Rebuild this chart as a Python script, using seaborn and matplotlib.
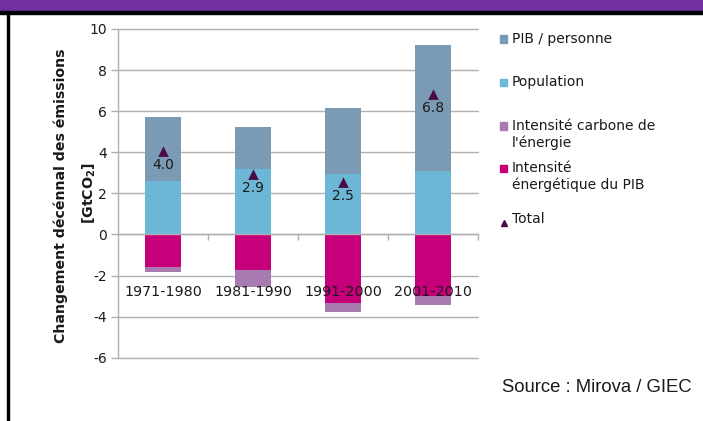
import matplotlib
matplotlib.use("Agg")
import matplotlib.pyplot as plt
from matplotlib.patches import Rectangle
from matplotlib.lines import Line2D
import seaborn as sns
import numpy as np

categories = ["1971-1980", "1981-1990", "1991-2000", "2001-2010"]
pib_personne = [3.1, 2.05, 3.2, 6.1]
population = [2.6, 3.2, 2.95, 3.1]
intensite_carbone = [-0.26, -0.8, -0.47, -0.47]
intensite_energetique = [-1.58, -1.74, -3.32, -2.98]
total = [4.0, 2.9, 2.5, 6.8]
yticks = [-6, -4, -2, 0, 2, 4, 6, 8, 10]

legend_labels = ["PIB / personne", "Population",
                 "Intensité carbone de\nl'énergie",
                 "Intensité\nénergétique du PIB", "Total"]

C_PIB = "#7b9bb5"
C_POP = "#6cb7d6"
C_CARB = "#a77bb0"
C_ENER = "#c5007a"
C_TOT = "#4a0b46"
C_GRID = "#b0b0b0"
TXT = "#1a1a1a"

sns.set_theme(style="white")
plt.rcParams["font.family"] = ["DejaVu Sans"]

W, H = 703, 421
fig = plt.figure(figsize=(W / 100, H / 100), dpi=100)
fig.patch.set_facecolor("white")

def fx(px):
    return px / W

def fy(py):
    return 1 - py / H

ax = fig.add_axes([fx(118), fy(357.7), fx(478) - fx(118), fy(29) - fy(357.7)])
ax.set_facecolor("white")

pos_top = np.array(population) + np.array(pib_personne)
neg_bot = np.array(intensite_energetique) + np.array(intensite_carbone)

common = dict(ax=ax, width=0.4, saturation=1, linewidth=0, errorbar=None)
sns.barplot(x=categories, y=pos_top, color=C_PIB, **common)
sns.barplot(x=categories, y=population, color=C_POP, **common)
sns.barplot(x=categories, y=neg_bot, color=C_CARB, **common)
sns.barplot(x=categories, y=intensite_energetique, color=C_ENER, **common)

sns.pointplot(x=categories, y=total, ax=ax, color=C_TOT, markers="^",
              linestyles="none", errorbar=None, markersize=4.2)
for i, t in enumerate(total):
    ax.annotate(f"{t:.1f}", (i, t), xytext=(0, -17), textcoords="offset pixels",
                ha="center", va="baseline", fontsize=10, color=TXT, zorder=6)

ax.set_ylim(-6, 10)
ax.set_xlim(-0.5, len(categories) - 0.5)
ax.set_yticks(yticks)
ax.set_yticklabels([str(v) for v in yticks], fontsize=10, color=TXT)
ax.yaxis.grid(True, color=C_GRID, linewidth=1)
ax.xaxis.grid(False)
ax.set_axisbelow(True)
for gl in ax.get_ygridlines():
    gl.set_clip_on(False)
ax.tick_params(axis="y", which="major", direction="out", length=5, width=1,
               color=C_GRID, pad=3, left=True)

# category axis crossing at 0
ax.spines["bottom"].set_position(("data", 0))
for s in ["top", "right"]:
    ax.spines[s].set_visible(False)
for s in ["bottom", "left"]:
    ax.spines[s].set_color(C_GRID)
    ax.spines[s].set_linewidth(1)
ax.set_xticks(range(len(categories)))
ax.set_xticklabels([])
ax.set_xticks(np.arange(len(categories)) + 0.5, minor=True)
ax.tick_params(axis="x", which="major", length=0)
ax.tick_params(axis="x", which="minor", direction="out", length=4, width=1,
               color=C_GRID, bottom=True)
ax.set_xlabel("")
ax.set_ylabel("")
for i, c in enumerate(categories):
    ax.annotate(c, (i, 0), xytext=(0, -58), textcoords="offset pixels",
                ha="center", va="center", fontsize=10.3, color=TXT, zorder=6)

# y label
fig.text(fx(61), fy(196), "Changement décénnal des émissions", rotation=90,
         ha="center", va="center", fontsize=10.2, fontweight="bold", color=TXT)
fig.text(fx(89), fy(193), "[GtCO$_\\mathbf{2}$]", rotation=90,
         ha="center", va="center", fontsize=10.2, fontweight="bold", color=TXT)

# legend (manual)
leg_y = [39, 82, 126, 168, 219]
leg_colors = [C_PIB, C_POP, C_CARB, C_ENER]
for y, lab, col in zip(leg_y[:4], legend_labels[:4], leg_colors):
    fig.patches.append(Rectangle((fx(500), fy(y + 3.5)), 7 / W, 7 / H,
                                 transform=fig.transFigure, color=col, figure=fig))
    fig.text(fx(512), fy(y - 7), lab, ha="left", va="top", fontsize=10,
             color=TXT, linespacing=1.2)
fig.lines.append(Line2D([fx(503.5)], [fy(223)], marker="^", markersize=5,
                        color=C_TOT, linestyle="none", transform=fig.transFigure))
fig.text(fx(512), fy(leg_y[4] - 7), legend_labels[4], ha="left", va="top",
         fontsize=10, color=TXT)

# source
fig.text(fx(502), fy(387), "Source : Mirova / GIEC", ha="left", va="center",
         fontsize=13.3, color=TXT, family=["Liberation Sans", "DejaVu Sans"])

# banner and frame
fig.patches.append(Rectangle((0, fy(11)), 1, 11 / H, transform=fig.transFigure,
                             color="#7030a0", figure=fig))
fig.patches.append(Rectangle((0, fy(13.5)), 1, 2.5 / H, transform=fig.transFigure,
                             color="black", figure=fig))
fig.patches.append(Rectangle((fx(6.5), 0), 2.2 / W, fy(12), transform=fig.transFigure,
                             color="black", figure=fig))

fig.savefig("out.png", dpi=100, facecolor="white")
